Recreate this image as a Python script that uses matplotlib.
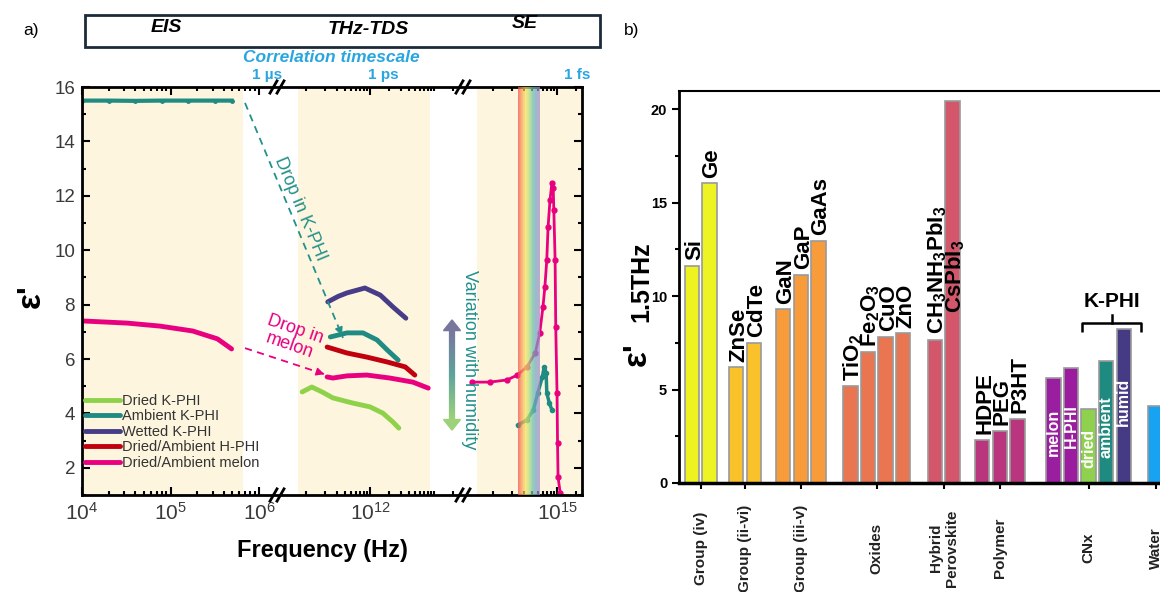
import numpy as np
import matplotlib.pyplot as plt
from matplotlib.collections import LineCollection
from matplotlib.colors import LinearSegmentedColormap
from matplotlib.patches import Rectangle, Polygon
from matplotlib.ticker import FixedLocator, MultipleLocator

plt.rcParams['font.family'] = ['Liberation Sans', 'DejaVu Sans']
plt.rcParams['mathtext.fontset'] = 'custom'
plt.rcParams['mathtext.rm'] = 'Liberation Sans'
plt.rcParams['mathtext.bf'] = 'Liberation Sans:bold'
plt.rcParams['mathtext.it'] = 'Liberation Sans:italic'

# ---------------- panel a data: log10(frequency / Hz) and eps' ----------------
ambient_eis_logf = [4.0, 4.3, 4.6, 4.9, 5.2, 5.5, 5.69]
ambient_eis_eps = [15.5, 15.5, 15.49, 15.5, 15.5, 15.5, 15.5]
melon_eis_logf = [4.0, 4.51, 4.88, 5.25, 5.53, 5.69]
melon_eis_eps = [7.40, 7.32, 7.21, 7.03, 6.74, 6.37]

dried_thz_logf = [10.94, 11.09, 11.25, 11.42, 11.73, 12.0, 12.2, 12.36, 12.45]
dried_thz_eps = [4.79, 4.97, 4.79, 4.57, 4.38, 4.24, 4.01, 3.68, 3.46]
ambient_thz_logf = [11.38, 11.64, 11.89, 12.11, 12.27, 12.44]
ambient_thz_eps = [6.81, 6.96, 6.96, 6.70, 6.33, 5.96]
wetted_thz_logf = [11.34, 11.5, 11.64, 11.92, 12.16, 12.36, 12.56]
wetted_thz_eps = [8.10, 8.30, 8.43, 8.61, 8.35, 7.91, 7.50]
hphi_thz_logf = [11.33, 11.64, 11.95, 12.27, 12.55, 12.70]
hphi_thz_eps = [6.44, 6.22, 6.07, 5.89, 5.71, 5.41]
melon_thz_logf = [11.33, 11.42, 11.64, 11.95, 12.31, 12.67, 12.91]
melon_thz_eps = [5.34, 5.30, 5.38, 5.41, 5.30, 5.15, 4.93]

melon_se_logf = [13.67, 13.95, 14.22, 14.38, 14.53, 14.66, 14.73, 14.78, 14.81, 14.84,
                 14.86, 14.89, 14.92, 14.94, 14.95, 14.97, 14.98, 15.0, 15.008, 15.016, 15.05]
melon_se_eps = [5.15, 5.15, 5.23, 5.41, 5.71, 6.22, 6.96, 7.91, 8.65, 9.64,
                10.85, 11.84, 12.47, 12.3, 11.48, 9.64, 7.18, 4.75, 2.91, 1.66, 1.07]
ambient_se_logf = [14.39, 14.53, 14.63, 14.70, 14.77, 14.80, 14.83, 14.84, 14.88, 14.92]
ambient_se_eps = [3.57, 3.76, 4.13, 4.75, 5.34, 5.71, 5.49, 4.75, 4.38, 4.13]

eis_range = (1e4, 10 ** 5.82)
thz_range = (10 ** 10.875, 10 ** 12.94)
se_range = (10 ** 13.75, 10 ** 15.39)
visible_band = (10 ** 14.39, 10 ** 14.73)

series_names = ['Dried K-PHI', 'Ambient K-PHI', 'Wetted K-PHI',
                'Dried/Ambient H-PHI', 'Dried/Ambient melon']
series_colors = ['#8ed24a', '#1f8b82', '#463c87', '#c0000e', '#e8007f']

# ---------------- panel b data ----------------
material_labels = ['Si', 'Ge', 'ZnSe', 'CdTe', 'GaN', 'GaP', 'GaAs',
                   r'$\mathbf{TiO_2}$', r'$\mathbf{Fe_2O_3}$', 'CuO', 'ZnO',
                   r'$\mathbf{CH_3NH_3PbI_3}$', r'$\mathbf{CsPbI_3}$',
                   'HDPE', 'PEG', 'P3HT',
                   'melon', 'H-PHI', 'dried', 'ambient', 'humid', '']
eps_thz = [11.64, 16.04, 6.20, 7.49, 9.30, 11.16, 12.96,
           5.17, 6.99, 7.84, 8.02, 7.66, 20.46,
           2.32, 2.80, 3.44, 5.61, 6.15, 3.98, 6.51, 8.24, 4.10]
material_group = [0, 0, 1, 1, 2, 2, 2, 3, 3, 3, 3, 4, 4, 5, 5, 5, 6, 6, 6, 6, 6, 7]
group_names = ['Group (iv)', 'Group (ii-vi)', 'Group (iii-v)', 'Oxides',
               'Hybrid\nPerovskite', 'Polymer', 'CNx', 'Water']
inside_labels = ['melon', 'H-PHI', 'dried', 'ambient', 'humid']
inside_label_base = [1.43, 1.87, 0.8, 1.34, 3.03]

bar_colors = ['#edf220', '#eef424', '#f9c22b', '#f9c22b', '#f89b3b', '#f89b3b', '#f89b3b',
              '#ea7651', '#ea7651', '#ea7651', '#ea7651', '#d4566b', '#d4566b',
              '#b9367f', '#b9367f', '#b9367f',
              '#9a1fa0', '#9b1c9e', '#8fd14f', '#1f8a80', '#453a84', '#17a3f2']
group_gap = [0.52, 0.67, 0.82, 0.80, 0.69, 1.05, 0.81]

W, H = 1160, 592


def fx(px):
    return px / W


def fy(py):
    return 1 - py / H


fig = plt.figure(figsize=(11.6, 5.92), dpi=100)

# ======================= panel a =======================
ax = fig.add_axes([fx(82), fy(495), 500 / W, 408 / H])

brk_L = np.array([3.0, 4.0, 6.15, 10.67, 13.4, 13.6, 15.39, 16.5])
brk_u = np.array([-6.5, 82.0, 272.3, 284.9, 459.6, 467.4, 582.0, 653.0])


def fwd(f):
    return np.interp(np.log10(np.maximum(f, 1e-12)), brk_L, brk_u)


def inv(u):
    return 10 ** np.interp(u, brk_u, brk_L)


ax.set_xscale('function', functions=(fwd, inv))

beige = '#fdf5de'
for lo, hi in (eis_range, thz_range, se_range):
    ax.axvspan(lo, hi, color=beige, lw=0, zorder=0)

# visible band
band_cmap = LinearSegmentedColormap.from_list(
    'band', ['#f2554c', '#f79a55', '#f7e35a', '#bfe07a', '#6fc3a2', '#72a4cc', '#a58cc4'])
nb = 40
edges = np.linspace(np.log10(visible_band[0]), np.log10(visible_band[1]), nb + 1)
for i in range(nb):
    ax.axvspan(10 ** edges[i], 10 ** edges[i + 1], color=band_cmap(i / (nb - 1)),
               lw=0, alpha=0.72, zorder=3)


def f(logs):
    return 10 ** np.asarray(logs)


lw = 3.5
c_dry, c_amb, c_wet, c_hphi, c_mel = series_colors
ax.plot(f(ambient_eis_logf), ambient_eis_eps, color=c_amb, lw=3, marker='o', ms=2.5, zorder=2)
ax.plot(f(melon_eis_logf), melon_eis_eps, color=c_mel, lw=lw, solid_capstyle='round', zorder=2)
h1, = ax.plot(f(dried_thz_logf), dried_thz_eps, color=c_dry, lw=lw, solid_capstyle='round', zorder=2)
h2, = ax.plot(f(ambient_thz_logf), ambient_thz_eps, color=c_amb, lw=lw, solid_capstyle='round', zorder=2)
h3, = ax.plot(f(wetted_thz_logf), wetted_thz_eps, color=c_wet, lw=lw, solid_capstyle='round', zorder=2)
h4, = ax.plot(f(hphi_thz_logf), hphi_thz_eps, color=c_hphi, lw=lw, solid_capstyle='round', zorder=2)
h5, = ax.plot(f(melon_thz_logf), melon_thz_eps, color=c_mel, lw=lw, solid_capstyle='round', zorder=2)
ax.plot(f(melon_se_logf), melon_se_eps, color=c_mel, lw=2, marker='o', ms=3.5, zorder=2)
ax.plot(f(ambient_se_logf), ambient_se_eps, color=c_amb, lw=2.5, marker='o', ms=3, zorder=2)

ax.set_xlim(1e4, 10 ** 15.39)
ax.set_ylim(1, 16)

major = [1e4, 1e5, 1e6, 1e12, 1e15]
tick_segs = [(4.0, 6.15), (11.0, 13.4), (14.0, 15.39)]
minor = []
for d in range(4, 16):
    for m in range(1, 10):
        L = d + np.log10(m)
        if any(a - 1e-9 <= L <= b for a, b in tick_segs) and m * 10.0 ** d not in major:
            minor.append(m * 10.0 ** d)
ax.xaxis.set_major_locator(FixedLocator(major))
ax.xaxis.set_minor_locator(FixedLocator(minor))
ax.set_xticklabels([r'$10^{4}$', r'$10^{5}$', r'$10^{6}$', r'$10^{12}$', r'$10^{15}$'])
ax.yaxis.set_major_locator(MultipleLocator(2))
ax.yaxis.set_minor_locator(MultipleLocator(1))
ax.tick_params(which='both', direction='in', top=True, right=True, width=1.5, colors='black',
               labelcolor='#3a3a3a')
ax.tick_params(which='major', length=6)
ax.tick_params(which='minor', length=3)
ax.tick_params(axis='x', labelsize=15, pad=5)
ax.tick_params(axis='y', labelsize=13.5, pad=5)
for s in ax.spines.values():
    s.set_linewidth(2)

ax.set_xlabel('Frequency (Hz)', fontsize=17, fontweight='bold', va='center')
ax.xaxis.set_label_coords(0.48, (495 - 551) / 408)

# axis breaks
for bx in ((277 - 82) / 500, (463 - 82) / 500):
    for by in (0, 1):
        for off in (-0.007, 0.007):
            ax.plot([bx + off - 0.007, bx + off + 0.007], [by - 0.015, by + 0.015],
                    transform=ax.transAxes, color='black', lw=2, clip_on=False, zorder=6)

ax.legend([h1, h2, h3, h4, h5], series_names, loc='upper left',
          bbox_to_anchor=(0.0, (495 - 391) / 408), frameon=False, fontsize=10.5,
          handlelength=2.4, handletextpad=0.15, labelspacing=0.1, borderpad=0.2,
          borderaxespad=0, labelcolor='#333333')

# annotations
teal_txt = '#23908a'
ax.plot([0.326, 0.522], [0.961, 0.385], transform=ax.transAxes, color=teal_txt,
        lw=1.3, ls=(0, (4, 3)), zorder=4)
ax.annotate('', xy=(0.522, 0.385), xytext=(0.516, 0.403), xycoords='axes fraction',
            arrowprops=dict(arrowstyle='-|>', color=teal_txt, lw=1, mutation_scale=12))
ax.text(0.436, 0.701, 'Drop in K-PHI', transform=ax.transAxes, rotation=-67.4,
        ha='center', va='center', fontsize=13, color=teal_txt)

ax.plot([0.326, 0.49], [0.360, 0.294], transform=ax.transAxes, color=c_mel,
        lw=1.3, ls=(0, (4, 3)), zorder=4)
ax.annotate('', xy=(0.49, 0.294), xytext=(0.475, 0.300), xycoords='axes fraction',
            arrowprops=dict(arrowstyle='-|>', color=c_mel, lw=1, mutation_scale=12))
ax.text(0.42, 0.385, 'Drop in\nmelon', transform=ax.transAxes, rotation=-19,
        ha='center', va='center', fontsize=13, color=c_mel, linespacing=1.0)

ax.text(0.776, 0.331, 'Variation with humidity', transform=ax.transAxes, rotation=-90,
        ha='center', va='center', fontsize=13, color=teal_txt)

# gradient double arrow
grad = LinearSegmentedColormap.from_list('hum', ['#9dd17a', '#5fa39c', '#77779d'])
ax_x, y_lo, y_hi, head = 0.74, 0.159, 0.429, 0.026
ys = np.linspace(y_lo + head, y_hi - head, 60)
segs = [[(ax_x, ys[i]), (ax_x, ys[i + 1])] for i in range(len(ys) - 1)]
lc = LineCollection(segs, colors=[grad(i / (len(segs) - 1)) for i in range(len(segs))],
                    linewidths=4.5, transform=ax.transAxes, zorder=4)
ax.add_collection(lc)
ax.add_patch(Polygon([(ax_x - 0.017, y_hi - head), (ax_x + 0.017, y_hi - head), (ax_x, y_hi)],
                     closed=True, color='#77779d', transform=ax.transAxes, zorder=4))
ax.add_patch(Polygon([(ax_x - 0.017, y_lo + head), (ax_x + 0.017, y_lo + head), (ax_x, y_lo)],
                     closed=True, color='#9dd17a', transform=ax.transAxes, zorder=4))

# timescale labels
sky = '#29a6df'
for fr, lab, off in ((1e6, '1 µs', 6), (1e12, '1 ps', 9.5), (1e15, '1 fs', 14.5)):
    ax.annotate(lab, xy=(fr, 1), xycoords=('data', 'axes fraction'), xytext=(off, 8.5),
                textcoords='offset points', ha='center', va='center', fontsize=11,
                fontweight='bold', color=sky)
fig.text(fx(331), fy(58), 'Correlation timescale', ha='center', va='center', fontsize=12.5,
         fontweight='bold', style='italic', color=sky)

# technique box
fig.add_artist(Rectangle((fx(85), fy(47)), 515 / W, 32 / H, transform=fig.transFigure,
                         fill=False, ec='#1c2b3a', lw=2))
for px, py, t in ((166, 27, 'EIS'), (368, 30, 'THz-TDS'), (525, 24, 'SE')):
    fig.text(fx(px), fy(py), t, ha='center', va='center', fontsize=14, fontweight='bold',
             style='italic')

fig.text(fx(31), fy(30), 'a)', ha='center', va='center', fontsize=12.5)
fig.text(fx(632), fy(30), 'b)', ha='center', va='center', fontsize=12.5)
fig.text(fx(31), fy(296), "ε'", ha='center', va='center', fontsize=24, fontweight='bold',
         rotation=90)

# ======================= panel b =======================
bx_ = fig.add_axes([fx(679), fy(483), (1180 - 679) / W, (483 - 90.7) / H])

pos = []
x = 0.0
for i, g in enumerate(material_group):
    if i > 0:
        x += 1.0
        if g != material_group[i - 1]:
            x += group_gap[material_group[i - 1]]
    pos.append(x)
pos = np.array(pos)

bx_.bar(pos, eps_thz, width=0.82, color=bar_colors, edgecolor='#9a9a9a', linewidth=1.2,
        zorder=2)

for i, (lab, v) in enumerate(zip(material_labels, eps_thz)):
    if not lab:
        continue
    if lab in inside_labels:
        k = inside_labels.index(lab)
        bx_.text(pos[i], inside_label_base[k], lab, rotation=90, rotation_mode='anchor',
                 ha='left', va='center', fontsize=11.5, fontweight='bold', color='white',
                 zorder=3)
    else:
        base = 9.1 if 'CsPb' in lab else v + 0.3
        bx_.text(pos[i] + 0.15, base, lab, rotation=90, rotation_mode='anchor', ha='left',
                 va='center', fontsize=16, fontweight='bold', color='black', zorder=3)

# K-PHI bracket
bx_.plot([22.2, 22.2, 25.5, 25.5], [8.09, 8.54, 8.54, 8.09], color='black', lw=1.8,
         solid_capstyle='butt')
bx_.plot([23.85, 23.85], [8.54, 8.98], color='black', lw=1.8)
bx_.text(23.85, 9.7, 'K-PHI', ha='center', va='center', fontsize=15, fontweight='bold')

bx_.set_xlim(-0.727, 27.74)
bx_.set_ylim(0, 21)
centers = [pos[np.array(material_group) == g].mean() for g in range(len(group_names))]
bx_.set_xticks(centers)
bx_.set_xticklabels(group_names, rotation=90, va='center', ha='center',
                    multialignment='center', fontsize=11, fontweight='bold', color='#222222')
bx_.tick_params(axis='x', direction='out', length=4.5, width=1.5, pad=42.3)
bx_.yaxis.set_major_locator(MultipleLocator(5))
bx_.yaxis.set_minor_locator(MultipleLocator(2.5))
bx_.tick_params(axis='y', which='major', direction='out', length=5, width=1.5,
                labelsize=10.5)
bx_.tick_params(axis='y', which='minor', direction='out', length=3, width=1.5)
for t in bx_.get_yticklabels():
    t.set_fontweight('bold')
bx_.spines['right'].set_visible(False)
bx_.spines['left'].set_linewidth(2)
bx_.spines['bottom'].set_linewidth(2.5)
bx_.spines['top'].set_linewidth(1.5)

fig.text(fx(637), fy(354), "ε'", ha='center', va='center', fontsize=24, fontweight='bold',
         rotation=90)
fig.text(fx(641), fy(282), '1.5THz', ha='center', va='center', fontsize=18,
         fontweight='bold', rotation=90)

fig.savefig('out.png', dpi=100)
